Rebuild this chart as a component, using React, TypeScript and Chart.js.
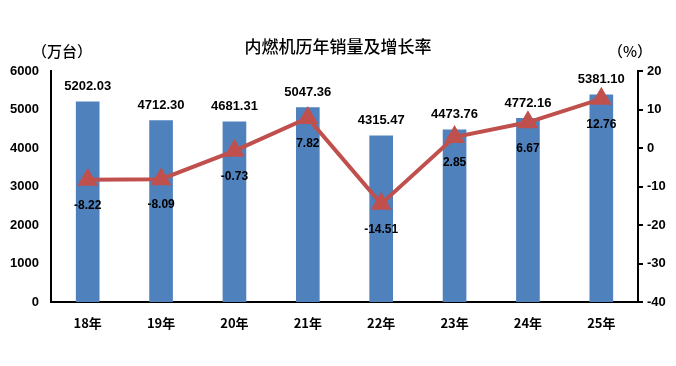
import React, { useEffect, useRef } from "react";
import { Chart, registerables } from "chart.js";

Chart.register(...registerables);

const categories = ["18年", "19年", "20年", "21年", "22年", "23年", "24年", "25年"];
const sales = [5202.03, 4712.3, 4681.31, 5047.36, 4315.47, 4473.76, 4772.16, 5381.1];
const growth = [-8.22, -8.09, -0.73, 7.82, -14.51, 2.85, 6.67, 12.76];
const leftTicks = [0, 1000, 2000, 3000, 4000, 5000, 6000];
const rightTicks = [-40, -30, -20, -10, 0, 10, 20];

const FONT = "'Liberation Sans', 'Noto Sans CJK SC', sans-serif";
const CJK = "'Noto Sans CJK SC', 'Liberation Sans', sans-serif";

const labelsPlugin = {
  id: "customLabels",
  afterDatasetsDraw(chart: any) {
    const ctx = chart.ctx;
    ctx.save();
    ctx.fillStyle = "#000";
    ctx.textAlign = "center";
    ctx.textBaseline = "middle";
    const barMeta = chart.getDatasetMeta(1);
    ctx.font = `bold 13px ${FONT}`;
    barMeta.data.forEach((el: any, i: number) => {
      ctx.fillText(sales[i].toFixed(2), el.x, el.y - 15);
    });
    const lineMeta = chart.getDatasetMeta(0);
    ctx.font = `bold 12px ${FONT}`;
    lineMeta.data.forEach((el: any, i: number) => {
      ctx.fillText(growth[i].toFixed(2), el.x, el.y + 26);
    });
    ctx.font = `500 17px ${CJK}`;
    ctx.fillText("内燃机历年销量及增长率", 338, 47);
    ctx.font = `500 15px ${CJK}`;
    ctx.fillText("（万台）", 62, 51);
    ctx.fillText("（%）", 630, 51);
    ctx.restore();
  },
};

export default function App() {
  const ref = useRef<HTMLCanvasElement>(null);
  useEffect(() => {
    document.body.style.margin = "0";
    const chart = new Chart(ref.current!, {
      data: {
        labels: categories,
        datasets: [
          {
            type: "line",
            data: growth,
            yAxisID: "y1",
            borderColor: "#C0504D",
            backgroundColor: "#C0504D",
            borderWidth: 4,
            pointStyle: "triangle",
            pointRadius: 8,
            pointBackgroundColor: "#C0504D",
            pointBorderColor: "#C0504D",
            order: 0,
          } as any,
          {
            type: "bar",
            data: sales,
            yAxisID: "y",
            backgroundColor: "#4F81BD",
            barThickness: 23,
            order: 1,
          } as any,
        ],
      },
      options: {
        animation: false,
        responsive: false,
        layout: { padding: { top: 71, left: 0, right: 0, bottom: 0 } },
        plugins: { legend: { display: false }, tooltip: { enabled: false } },
        scales: {
          x: {
            grid: { display: false, drawTicks: false },
            border: { color: "#000", width: 2 },
            ticks: { color: "#000", font: { family: CJK, size: 13, weight: "bold" }, padding: 13 },
            afterFit: (s: any) => { s.height = 64; },
          },
          y: {
            position: "left",
            min: 0,
            max: 6000,
            afterBuildTicks: (s: any) => { s.ticks = leftTicks.map((v) => ({ value: v })); },
            grid: { display: false, drawTicks: false },
            border: { color: "#000", width: 2 },
            ticks: { color: "#000", font: { family: FONT, size: 13, weight: "bold" }, padding: 12, callback: (v: any) => String(v) },
            afterFit: (s: any) => { s.width = 51; },
          },
          y1: {
            position: "right",
            min: -40,
            max: 20,
            afterBuildTicks: (s: any) => { s.ticks = rightTicks.map((v) => ({ value: v })); },
            grid: { display: true, drawOnChartArea: false, drawTicks: true, tickLength: 5, color: "#000", lineWidth: 2 },
            border: { color: "#000", width: 2 },
            ticks: { color: "#000", font: { family: FONT, size: 13, weight: "bold" }, padding: 4, callback: (v: any) => String(v) },
            afterFit: (s: any) => { s.width = 38; },
          },
        },
      } as any,
      plugins: [labelsPlugin],
    });
    return () => chart.destroy();
  }, []);
  return (
    <div style={{ width: 676, height: 366, background: "#fff" }}>
      <canvas ref={ref} width={676} height={366} style={{ display: "block" }} />
    </div>
  );
}
